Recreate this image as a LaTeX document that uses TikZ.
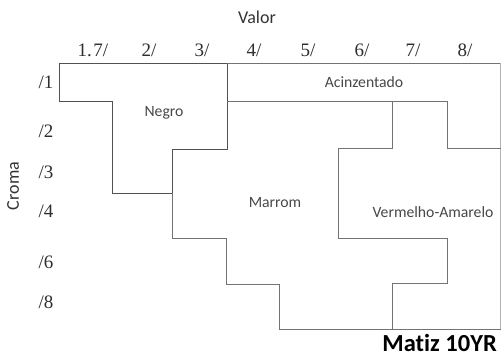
\documentclass[tikz,border=0pt]{standalone}
\usepackage{fontspec}
\setmainfont{Liberation Serif}
\newfontfamily\labelfont[Ligatures=NoCommon]{Carlito}
\usetikzlibrary{positioning}

\tikzset{
    boundary/.style={draw=black!55, line width=0.9pt},
    darkboundary/.style={draw=black!68, line width=0.9pt},
    scalelabel/.style={font=\fontsize{19}{19}\selectfont, text=black!82, inner sep=0pt},
    classlabel/.style={font=\labelfont\fontsize{15.7}{15.7}\selectfont, text=black!72, inner sep=0pt},
    axislabel/.style={font=\labelfont\fontsize{18}{18}\selectfont, text=black!80, inner sep=0pt}
}

\begin{document}
\begin{tikzpicture}[x=1pt, y=-1pt]
    \useasboundingbox (0,0) rectangle (501,358);

    % Axis titles
    \node[axislabel] (valor) at (257,17) {Valor};
    \node[axislabel, rotate=90] (croma) at (13,186) {Croma};

    % Value columns
    \foreach \v/\x [count=\i] in {1.\kern1.5pt7/93, 2/149, 3/202, 4/254, 5/308, 6/362, 7/413, 8/465} {
        \node[scalelabel] (v\i) at (\x,50) {\v/};
    }

    % Chroma rows
    \foreach \c/\y [count=\i] in {1/82, 2/131, 3/172, 4/211, 6/262, 8/302} {
        \node[scalelabel] (c\i) at (46,\y) {/\c};
    }

    % Black region
    \draw[darkboundary] (59,101) -- (59,63) -- (227,63) -- (227,149) -- (172,149) -- (172,193) -- (112,193) -- (112,101) -- cycle;

    % Outer boundary and brown steps
    \draw[boundary] (227,63) -- (500,63);
    \draw[boundary] (172,193) -- (172,238) -- (226,238) -- (226,284) -- (279,284) -- (279,329) -- (501,329);
    \draw[boundary, draw=black!30] (500,63) -- (500,329);

    % Greyish band
    \draw[boundary] (227,101) -- (447,101) -- (447,148) -- (501,148);

    % Red-yellow region
    \draw[boundary] (392,101) -- (392,148) -- (338,148) -- (338,238) -- (447,238) -- (447,283) -- (392,283) -- (392,329);

    % Class names
    \node[classlabel] (negro) at (164,113) {Negro};
    \node[classlabel] (acinz) at (364,82) {Acinzentado};
    \node[classlabel] (marrom) at (275,203) {Marrom};
    \node[classlabel] (vermam) at (433,212) {Vermelho-Amarelo};

    % Hue
    \node[font=\labelfont\bfseries\fontsize{24.5}{24.5}\selectfont, inner sep=0pt, anchor=east] (matiz) at (497,343) {Matiz 10YR};
\end{tikzpicture}
\end{document}
